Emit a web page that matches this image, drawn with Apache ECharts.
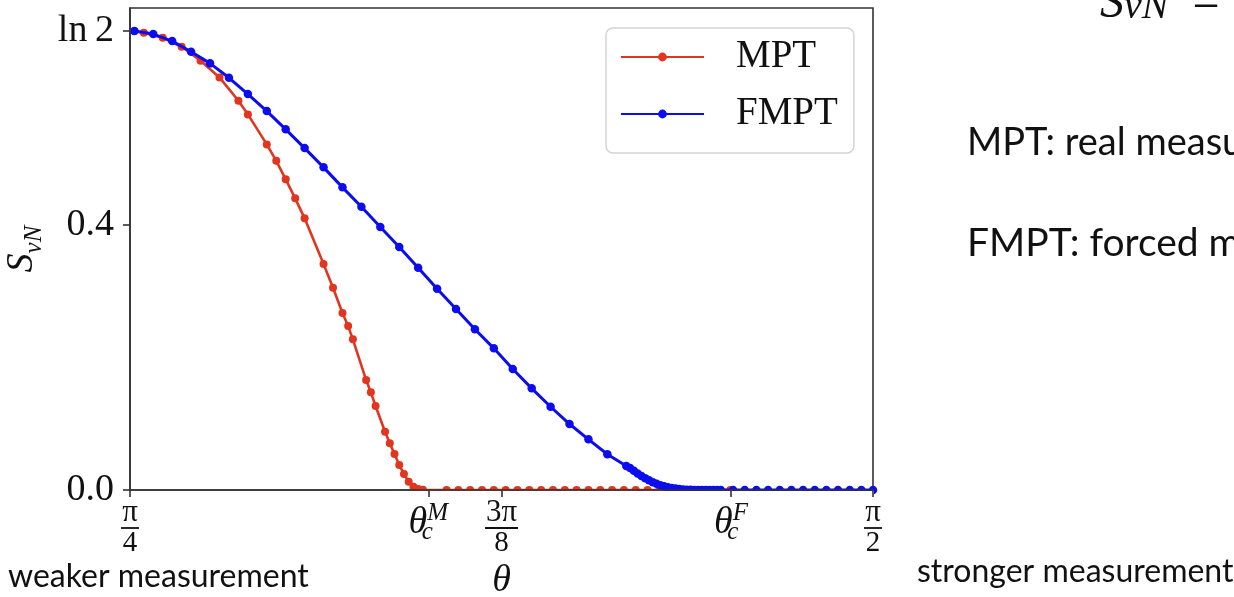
<!DOCTYPE html>
<html>
<head>
<meta charset="utf-8">
<script src="https://cdn.jsdelivr.net/npm/echarts@6/dist/echarts.min.js"></script>
<style>
  html, body { margin: 0; padding: 0; background: #fff; }
  #chart { width: 1234px; height: 597px; }
</style>
</head>
<body>
<div id="chart"></div>
<script>
// von Neumann entropy S_vN versus measurement angle theta (radians)
const PI = Math.PI;
const THETA_C_M = 1.1007;   // critical angle, MPT
const THETA_C_F = 1.4207;   // critical angle, FMPT

// MPT: real measurement
const mptTheta = [
  0.790, 0.800, 0.820, 0.840, 0.860, 0.880, 0.900, 0.910, 0.930, 0.940,
  0.950, 0.960, 0.970, 0.990, 1.000, 1.010, 1.016, 1.021, 1.035, 1.040,
  1.045, 1.055, 1.060, 1.065, 1.070, 1.075, 1.080, 1.085, 1.090, 1.095,
  1.1200, 1.1325, 1.1450, 1.1575, 1.1700, 1.1825, 1.1950, 1.2075, 1.2200, 1.2325,
  1.2450, 1.2575, 1.2700, 1.2825, 1.2950, 1.3075, 1.3200, 1.3325, 1.3450, 1.3575,
  1.3700, 1.3825, 1.3950, 1.4075, 1.4200
];
const mptS = [
  0.6930, 0.6903, 0.6827, 0.6691, 0.6480, 0.6229, 0.5876, 0.5671, 0.5218, 0.4970,
  0.4690, 0.4403, 0.4101, 0.3411, 0.3054, 0.2672, 0.2475, 0.2275, 0.1660, 0.1475,
  0.1268, 0.0880, 0.0705, 0.0543, 0.0377, 0.0242, 0.0125, 0.0050, 0.0015, 0.0002,
  0, 0, 0, 0, 0, 0, 0, 0, 0, 0,
  0, 0, 0, 0, 0, 0, 0, 0, 0, 0,
  0, 0, 0, 0, 0
];

// FMPT: forced measurement
const fmptTheta = [
  0.79, 0.81, 0.83, 0.85, 0.87, 0.89, 0.91, 0.93, 0.95, 0.97,
  0.99, 1.01, 1.03, 1.05, 1.07, 1.09, 1.11, 1.13, 1.15, 1.17,
  1.19, 1.21, 1.23, 1.25, 1.27, 1.29, 1.31,
  1.314, 1.318, 1.322, 1.326, 1.330, 1.334, 1.338, 1.342, 1.346, 1.350,
  1.354, 1.358, 1.362, 1.366, 1.370, 1.374, 1.378, 1.382, 1.386, 1.390,
  1.394, 1.398, 1.402, 1.406, 1.410,
  1.4229, 1.4352, 1.4475, 1.4599, 1.4722, 1.4845, 1.4969, 1.5092, 1.5215, 1.5338,
  1.5462, 1.5585, 1.5708
];
const fmptS = [
  0.6930, 0.6883, 0.6777, 0.6616, 0.6441, 0.6223, 0.5977, 0.5721, 0.5445, 0.5162,
  0.4871, 0.4569, 0.4276, 0.3970, 0.3668, 0.3355, 0.3038, 0.2732, 0.2426, 0.2139,
  0.1826, 0.1535, 0.1257, 0.0996, 0.0765, 0.0539, 0.0362,
  0.0332, 0.0290, 0.0248, 0.0210, 0.0176, 0.0146, 0.0118, 0.0094, 0.0073, 0.0056,
  0.0042, 0.0030, 0.0021, 0.0014, 0.0009, 0.0005, 0.0003, 0.0001, 0, 0,
  0, 0, 0, 0, 0,
  0, 0, 0, 0, 0, 0, 0, 0, 0, 0,
  0, 0, 0
];

// axis ticks and their labels
const xTickValues = [PI / 4, THETA_C_M, 3 * PI / 8, THETA_C_F, PI / 2];
const xTickLabels = [
  '{n|π}\n{bar1| }\n{d|4}',
  '{th|θ}{sub|c}{sup|M}',
  '{n|3π}\n{bar2| }\n{d|8}',
  '{th|θ}{sub|c}{sup|F}',
  '{n|π}\n{bar1| }\n{d|2}'
];
const yTickValues = [0, 0.4, Math.LN2];
const yTickLabels = ['0.0', '0.4', 'ln\u20092'];

const RED = '#e2351f';
const BLUE = '#0c0cf0';
const SERIF = '"Liberation Serif", "DejaVu Serif", serif';
const SANS = 'Lato, "Open Sans", sans-serif';
const INK = '#111';

function zip(xs, ys) { return xs.map((x, i) => [x, ys[i]]); }
function nearestIndex(list, v) {
  let best = 0;
  list.forEach((t, i) => { if (Math.abs(t - v) < Math.abs(list[best] - v)) best = i; });
  return best;
}

const chart = echarts.init(document.getElementById('chart'), null, { renderer: 'canvas' });

const GRID = { left: 130, right: 361, top: 8, bottom: 107 };

chart.setOption({
  animation: false,
  backgroundColor: '#fff',
  grid: Object.assign({
    show: true, borderColor: '#333', borderWidth: 1.6, backgroundColor: 'transparent',
    containLabel: false, outerBoundsMode: 'none'
  }, GRID),
  xAxis: {
    type: 'value',
    min: PI / 4,
    max: PI / 2,
    z: 10,
    axisLine: { lineStyle: { color: '#333', width: 1.6 } },
    axisTick: { customValues: xTickValues, length: 7, lineStyle: { color: '#333', width: 1.6 } },
    splitLine: { show: false },
    axisLabel: {
      customValues: xTickValues,
      margin: 11,
      color: INK,
      formatter: v => xTickLabels[nearestIndex(xTickValues, v)],
      rich: {
        n:   { fontFamily: SERIF, fontSize: 31, lineHeight: 24, color: INK, align: 'center' },
        d:   { fontFamily: SERIF, fontSize: 29, lineHeight: 24, color: INK, align: 'center' },
        bar1:{ width: 18, height: 1.8, lineHeight: 6, backgroundColor: INK, fontSize: 2 },
        bar2:{ width: 33, height: 1.8, lineHeight: 6, backgroundColor: INK, fontSize: 2 },
        th:  { fontFamily: SERIF, fontStyle: 'italic', fontSize: 38, lineHeight: 44, color: INK },
        sub: { fontFamily: SERIF, fontStyle: 'italic', fontSize: 25, lineHeight: 20, verticalAlign: 'bottom', width: 0, color: INK },
        sup: { fontFamily: SERIF, fontStyle: 'italic', fontSize: 25, lineHeight: 22, verticalAlign: 'top', color: INK }
      }
    },
    name: 'θ',
    nameLocation: 'middle',
    nameGap: 72,
    nameTextStyle: { fontFamily: SERIF, fontStyle: 'italic', fontSize: 38, color: INK }
  },
  yAxis: {
    type: 'value',
    min: 0,
    max: 0.7277,
    z: 10,
    axisLine: { show: true, lineStyle: { color: '#333', width: 1.6 } },
    axisTick: { show: true, customValues: yTickValues, length: 7, lineStyle: { color: '#333', width: 1.6 } },
    splitLine: { show: false },
    axisLabel: {
      customValues: yTickValues,
      margin: 16,
      color: INK,
      fontFamily: SERIF,
      fontSize: 38,
      formatter: v => yTickLabels[nearestIndex(yTickValues, v)]
    },
    name: '{s|S}{sub|vN}',
    nameLocation: 'middle',
    nameGap: 76,
    nameRotate: 90,
    nameTextStyle: {
      rich: {
        s:   { fontFamily: SERIF, fontStyle: 'italic', fontSize: 38, lineHeight: 40, color: INK },
        sub: { fontFamily: SERIF, fontStyle: 'italic', fontSize: 25, lineHeight: 50, verticalAlign: 'bottom', color: INK }
      }
    }
  },
  legend: {
    orient: 'vertical',
    left: 606,
    top: 28,
    itemWidth: 83,
    itemHeight: 11,
    itemGap: 17,
    padding: [9, 16, 19, 14],
    backgroundColor: '#fff',
    borderColor: '#d4d4d4',
    borderWidth: 1.5,
    borderRadius: 7,
    textStyle: { fontFamily: SERIF, fontSize: 39, lineHeight: 40, color: INK, padding: [0, 0, 0, 27] },
    data: ['MPT', 'FMPT']
  },
  series: [
    {
      name: 'MPT',
      type: 'line',
      data: zip(mptTheta, mptS),
      symbol: 'circle',
      symbolSize: 8,
      showSymbol: true,
      color: RED,
      lineStyle: { color: RED, width: 2.6 },
      itemStyle: { color: RED },
      z: 2
    },
    {
      name: 'FMPT',
      type: 'line',
      data: zip(fmptTheta, fmptS),
      symbol: 'circle',
      symbolSize: 8.5,
      showSymbol: true,
      color: BLUE,
      lineStyle: { color: BLUE, width: 3 },
      itemStyle: { color: BLUE },
      z: 3
    }
  ],
  graphic: [
    // hides the part of the markers that falls below the plot frame
    { type: 'rect', z: 5, shape: { x: GRID.left + 1, y: 597 - GRID.bottom + 1, width: 1234 - GRID.left - GRID.right, height: 6 }, style: { fill: '#fff' } },
    { type: 'text', z: 20, left: 8, top: 561, style: { text: 'weaker measurement', font: '32px ' + SANS, fill: INK } },
    { type: 'text', z: 20, left: 917, top: 556, style: { text: 'stronger measurement', font: '32px ' + SANS, fill: INK } },
    { type: 'text', z: 20, left: 967, top: 124, style: { text: 'MPT: real measurement', font: '38px ' + SANS, fill: INK } },
    { type: 'text', z: 20, left: 967, top: 224, style: { text: 'FMPT: forced measurement', font: '39px ' + SANS, fill: INK } },
    {
      type: 'text', z: 20, left: 1100, top: -20,
      style: {
        text: '{s|S}{sub|vN}{eq|=}',
        rich: {
          s:   { fontFamily: SERIF, fontStyle: 'italic', fontSize: 48, lineHeight: 46, fill: INK },
          sub: { fontFamily: SERIF, fontStyle: 'italic', fontSize: 40, lineHeight: 34, verticalAlign: 'bottom', fill: INK },
          eq:  { fontFamily: SERIF, fontSize: 48, lineHeight: 46, fill: INK, padding: [0, 0, 0, 24] }
        }
      }
    }
  ]
});
</script>
</body>
</html>
